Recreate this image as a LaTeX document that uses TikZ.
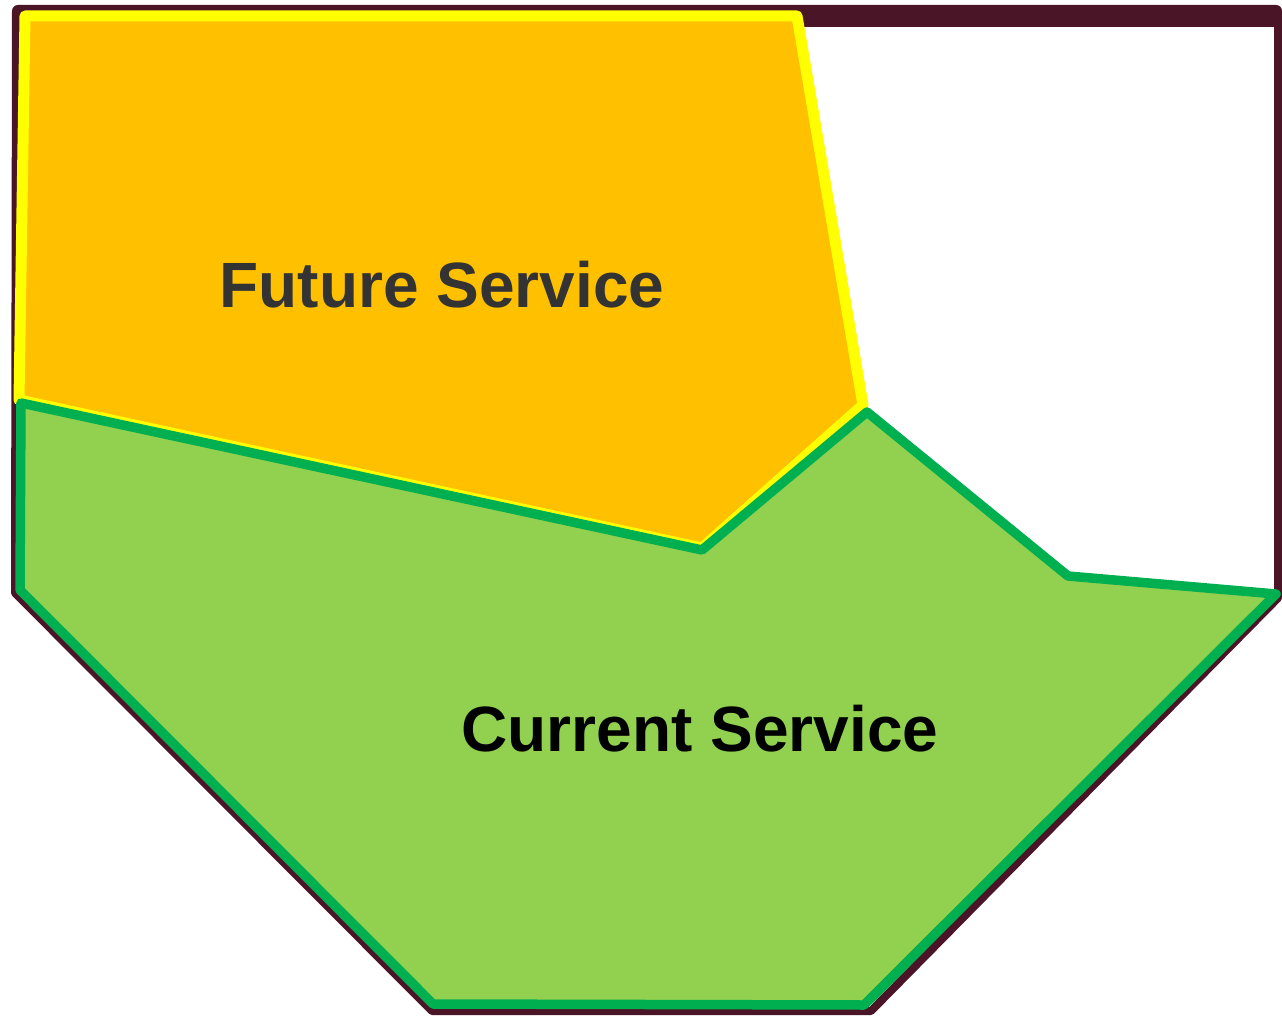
\documentclass[tikz,border=0pt]{standalone}
\usepackage{fontspec}
\setmainfont{Liberation Sans}
\definecolor{darkrim}{HTML}{4A1526}
\definecolor{futfill}{HTML}{FFC000}
\definecolor{futline}{HTML}{FFFF00}
\definecolor{curfill}{HTML}{92D050}
\definecolor{curline}{HTML}{00B050}
\tikzset{
  rim/.style={draw=darkrim, line width=8pt, line join=round},
  futarea/.style={fill=futfill, draw=futline, line width=11pt, line join=round},
  curarea/.style={fill=curfill, draw=curline, line width=9.5pt, line join=round},
  lbl/.style={font=\bfseries\fontsize{64}{64}\selectfont, anchor=base, inner sep=0pt}
}
\begin{document}
\begin{tikzpicture}[x=1pt,y=-1pt]
\useasboundingbox (0,0) rectangle (1282,1016);
% outer rim
\fill[darkrim, rounded corners=6pt] (12,5) -- (1282,5) -- (1282,27) -- (12,27) -- cycle;
\draw[rim] (16,12) -- (1278,12) -- (1278,598) -- (871,1011) -- (432,1011) -- (15,593) -- cycle;
% future service
\draw[futarea] (25,16) -- (797,16) -- (863,405) -- (702,548) -- (19,400) -- cycle;
% current service
\draw[curarea] (21,403) -- (702,550) -- (867,412) -- (1068,576) -- (1276,594) -- (864,1005) -- (433,1004) -- (20,590) -- cycle;
\node[lbl, text=black!80] (fut) at (442,308) {Future Service};
\node[lbl, text=black] (cur) at (700,751) {Current Service};
\end{tikzpicture}
\end{document}
